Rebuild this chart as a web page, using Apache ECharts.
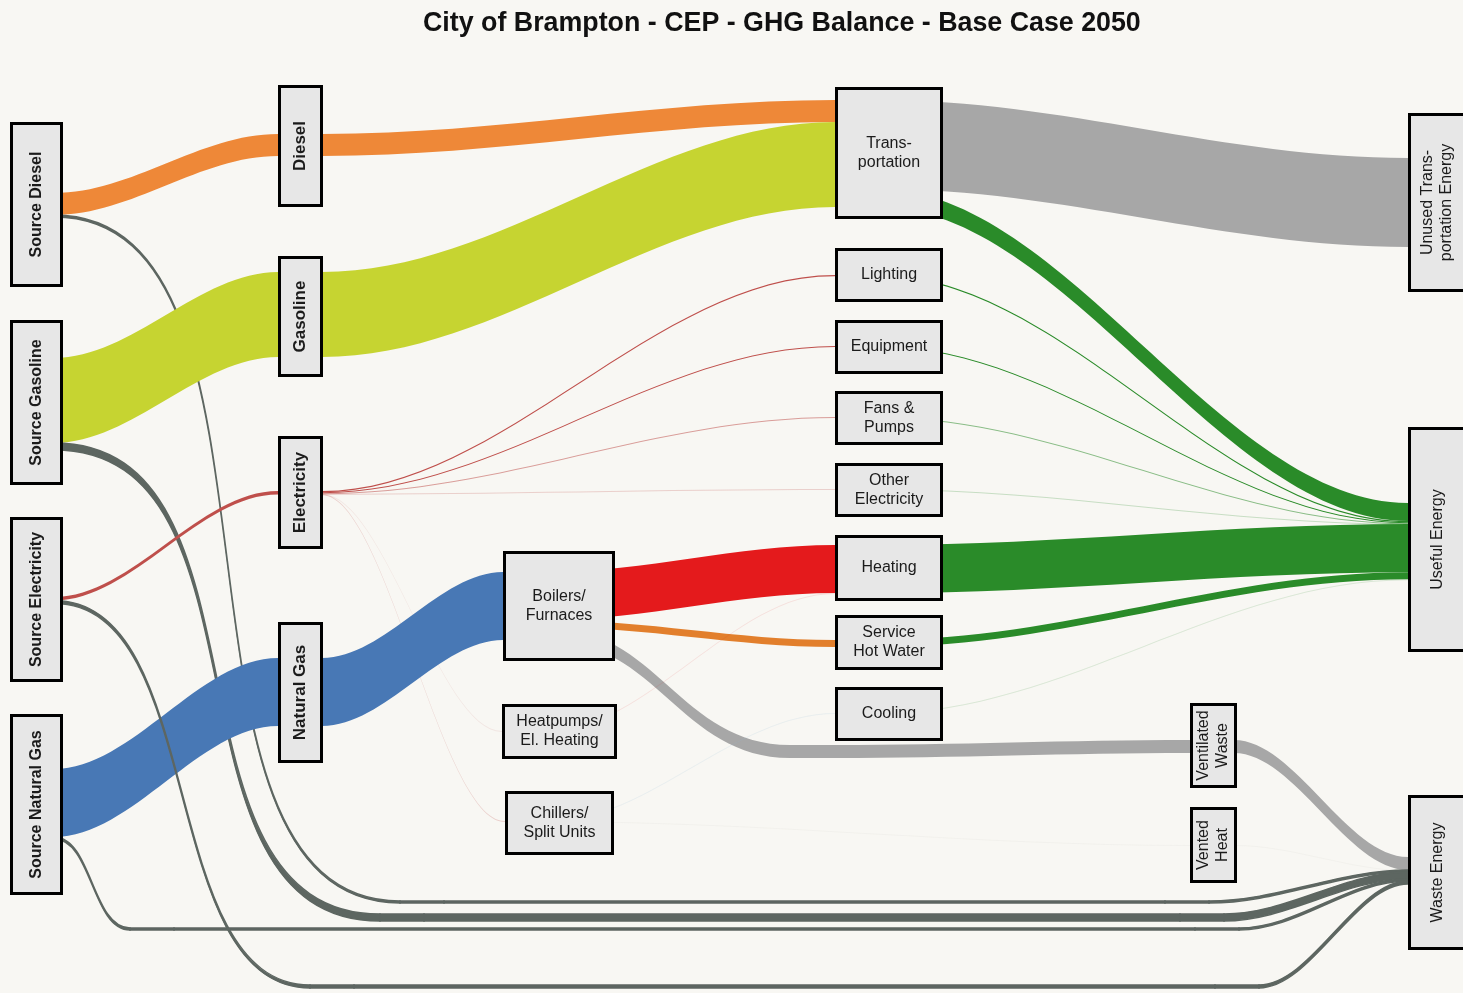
<!DOCTYPE html>
<html>
<head>
<meta charset="utf-8">
<title>City of Brampton - CEP - GHG Balance - Base Case 2050</title>
<script src="https://cdn.jsdelivr.net/npm/echarts@6/dist/echarts.min.js"></script>
<style>
  html, body { margin: 0; padding: 0; background: #f8f7f3; }
  #chart { width: 1463px; height: 993px; }
</style>
</head>
<body>
<div id="chart"></div>
<script>
// ---------------- data ----------------
const nodeNames = [
  'Source Diesel', 'Source Gasoline', 'Source Electricity', 'Source Natural Gas',
  'Diesel', 'Gasoline', 'Electricity', 'Natural Gas',
  'Boilers/Furnaces', 'Heatpumps/El. Heating', 'Chillers/Split Units',
  'Transportation', 'Lighting', 'Equipment', 'Fans & Pumps', 'Other Electricity',
  'Heating', 'Service Hot Water', 'Cooling',
  'Ventilated Waste', 'Vented Heat',
  'Unused Transportation Energy', 'Useful Energy', 'Waste Energy'
];
const nodeLabels = [
  'Source Diesel', 'Source Gasoline', 'Source Electricity', 'Source Natural Gas',
  'Diesel', 'Gasoline', 'Electricity', 'Natural Gas',
  'Boilers/\nFurnaces', 'Heatpumps/\nEl. Heating', 'Chillers/\nSplit Units',
  'Trans-\nportation', 'Lighting', 'Equipment', 'Fans &\nPumps', 'Other\nElectricity',
  'Heating', 'Service\nHot Water', 'Cooling',
  'Ventilated\nWaste', 'Vented\nHeat',
  'Unused Trans-\nportation Energy', 'Useful Energy', 'Waste Energy'
];

// flows, listed in the top-to-bottom order they stack at each node
const flowFrom = [
  'Ventilated Waste', 'Vented Heat',
  'Source Diesel', 'Source Diesel', 'Source Gasoline', 'Source Gasoline',
  'Source Natural Gas', 'Source Natural Gas', 'Source Electricity', 'Source Electricity',
  'Diesel', 'Gasoline',
  'Electricity', 'Electricity', 'Electricity', 'Electricity', 'Electricity', 'Electricity',
  'Natural Gas',
  'Boilers/Furnaces', 'Boilers/Furnaces', 'Boilers/Furnaces',
  'Heatpumps/El. Heating', 'Chillers/Split Units', 'Chillers/Split Units',
  'Transportation', 'Transportation',
  'Lighting', 'Equipment', 'Fans & Pumps', 'Other Electricity',
  'Heating', 'Service Hot Water', 'Cooling'
];
const flowTo = [
  'Waste Energy', 'Waste Energy',
  'Diesel', 'Waste Energy', 'Gasoline', 'Waste Energy',
  'Natural Gas', 'Waste Energy', 'Electricity', 'Waste Energy',
  'Transportation', 'Transportation',
  'Lighting', 'Equipment', 'Fans & Pumps', 'Other Electricity', 'Heatpumps/El. Heating', 'Chillers/Split Units',
  'Boilers/Furnaces',
  'Heating', 'Service Hot Water', 'Ventilated Waste',
  'Heating', 'Cooling', 'Vented Heat',
  'Unused Transportation Energy', 'Useful Energy',
  'Useful Energy', 'Useful Energy', 'Useful Energy', 'Useful Energy',
  'Useful Energy', 'Useful Energy', 'Useful Energy'
];
const flowValues = [
  13, 0.1,
  22, 2, 85, 7,
  68, 2, 3.55, 3,
  22, 85,
  1.2, 1.0, 0.6, 0.3, 0.15, 0.3,
  68,
  48, 7, 13,
  0.15, 0.2, 0.1,
  89, 18,
  1.2, 1.0, 0.6, 0.3,
  48.15, 7, 0.2
];
const flowCarrier = [
  'exhaust', 'ventedHeat',
  'diesel', 'loss', 'gasoline', 'loss',
  'gas', 'loss', 'electricity', 'loss',
  'diesel', 'gasoline',
  'electricity', 'electricity', 'electricity', 'electricity', 'electricity', 'electricity',
  'gas',
  'heat', 'hotWater', 'exhaust',
  'heat', 'cooling', 'ventedHeat',
  'unused', 'useful',
  'useful', 'useful', 'useful', 'useful',
  'useful', 'useful', 'useful'
];

// ---------------- layout (design grid of 1463 x 993) ----------------
const DESIGN_W = 1463;
const DESIGN_H = 993;
const NODE_W = 44;
const PX_PER_UNIT = 1;

// node boxes [x0, y0, x1, y1]
const BOX = {
  'Source Diesel': [10, 122, 63, 287],
  'Source Gasoline': [10, 320, 63, 485],
  'Source Electricity': [10, 517, 63, 682],
  'Source Natural Gas': [10, 714, 63, 895],
  'Diesel': [278, 85, 323, 207],
  'Gasoline': [278, 256, 323, 377],
  'Electricity': [278, 436, 323, 549],
  'Natural Gas': [278, 622, 323, 763],
  'Boilers/Furnaces': [503, 551, 615, 661],
  'Heatpumps/El. Heating': [502, 704, 617, 759],
  'Chillers/Split Units': [505, 791, 614, 855],
  'Transportation': [835, 87, 943, 219],
  'Lighting': [835, 248, 943, 302],
  'Equipment': [835, 320, 943, 374],
  'Fans & Pumps': [835, 391, 943, 445],
  'Other Electricity': [835, 463, 943, 517],
  'Heating': [835, 535, 943, 601],
  'Service Hot Water': [835, 615, 943, 670],
  'Cooling': [835, 687, 943, 741],
  'Ventilated Waste': [1190, 703, 1237, 788],
  'Vented Heat': [1190, 807, 1237, 883],
  'Unused Transportation Energy': [1408, 113, 1467, 292],
  'Useful Energy': [1408, 427, 1467, 652],
  'Waste Energy': [1408, 795, 1467, 950]
};
// y where the flows of each node start
const FLOW_TOP = {
  'Source Diesel': 193, 'Source Gasoline': 358, 'Source Electricity': 597, 'Source Natural Gas': 769,
  'Diesel': 134, 'Gasoline': 272, 'Electricity': 491, 'Natural Gas': 658,
  'Boilers/Furnaces': 572, 'Heatpumps/El. Heating': 731, 'Chillers/Split Units': 821,
  'Transportation': 100, 'Lighting': 275, 'Equipment': 346, 'Fans & Pumps': 417,
  'Other Electricity': 489, 'Heating': 545, 'Service Hot Water': 640, 'Cooling': 713,
  'Ventilated Waste': 740, 'Vented Heat': 845,
  'Unused Transportation Energy': 158, 'Useful Energy': 503, 'Waste Energy': 857
};
// some flows are routed through way points (left edge x, top y)
const ROUTES = {
  'Source Diesel>Waste Energy': { via: [[400, 901], [1165, 901]], curveness: 0.75 },
  'Source Gasoline>Waste Energy': { via: [[380, 914], [1180, 914]], curveness: 0.7 },
  'Source Natural Gas>Waste Energy': { via: [[130, 928], [1195, 928]], curveness: 0.5 },
  'Source Electricity>Waste Energy': { via: [[310, 985], [1215, 985]], curveness: 0.6 },
  'Boilers/Furnaces>Ventilated Waste': { via: [[790, 745]], curveness: 0.45 }
};

const LABEL_KIND = {
  source: { rotate: true, bold: true, size: 16 },
  carrier: { rotate: true, bold: true, size: 17 },
  device: { rotate: false, bold: false, size: 16 },
  sink: { rotate: true, bold: false, size: 16 }
};
function labelKind(i) {
  if (i < 4) return LABEL_KIND.source;
  if (i < 8) return LABEL_KIND.carrier;
  if (i < 19) return LABEL_KIND.device;
  return LABEL_KIND.sink;
}

const CARRIER_COLOR = {
  diesel: '#ee8838', gasoline: '#c6d431', electricity: '#bf4f4b', gas: '#4878b5',
  heat: '#e41a1c', hotWater: '#e27f2c', cooling: '#8fb7d6', useful: '#2a8b29',
  unused: '#a7a7a7', exhaust: '#a7a7a7', ventedHeat: '#c4c4ba', loss: '#5d6661'
};

function linkStyle(carrier, v) {
  const color = CARRIER_COLOR[carrier];
  // hairline flows look faint, as in the original
  const opacity = v >= 1 ? 1 : Math.max(0.1, Math.pow(v, 1.2));
  const s = { color: color, opacity: opacity };
  if (carrier === 'loss') {
    s.borderColor = color;
    s.borderWidth = 1.5;
  }
  return s;
}

// ---------------- chart ----------------
const chartDom = document.getElementById('chart');
const myChart = echarts.init(chartDom);
const W = myChart.getWidth();
const Hc = myChart.getHeight();
const sy = Hc / DESIGN_H;

// node values = max(in, out); size the sankey box so that 1 unit = PX_PER_UNIT px
const inSum = {}, outSum = {};
flowFrom.forEach(function (f, i) {
  outSum[f] = (outSum[f] || 0) + flowValues[i];
  inSum[flowTo[i]] = (inSum[flowTo[i]] || 0) + flowValues[i];
});
let maxNodeValue = 0;
nodeNames.forEach(function (n) {
  maxNodeValue = Math.max(maxNodeValue, inSum[n] || 0, outSum[n] || 0);
});
const H = maxNodeValue * PX_PER_UNIT * sy;

// every node in its own column keeps the flow order as listed above
let depth = 0;
const sankeyNodes = nodeNames.map(function (name) {
  return {
    name: name,
    depth: depth++,
    localX: BOX[name][0] / DESIGN_W,
    localY: FLOW_TOP[name] * sy / H,
    itemStyle: { color: 'rgba(0,0,0,0)', borderWidth: 0 }
  };
});
const sankeyLinks = [];
flowFrom.forEach(function (from, i) {
  const to = flowTo[i];
  const v = flowValues[i];
  const style = linkStyle(flowCarrier[i], v);
  const route = ROUTES[from + '>' + to];
  let prev = from;
  if (route) {
    route.via.forEach(function (pt, k) {
      const via = 'via ' + i + '-' + k;
      sankeyNodes.push({
        name: via,
        depth: depth++,
        localX: pt[0] / DESIGN_W,
        localY: pt[1] * sy / H,
        itemStyle: {
          color: style.color, opacity: style.opacity,
          borderColor: style.borderColor || style.color, borderWidth: style.borderWidth || 0
        }
      });
      const ls = Object.assign({}, style);
      if (k === 0) ls.curveness = route.curveness;
      sankeyLinks.push({ source: prev, target: via, value: v, lineStyle: ls });
      prev = via;
    });
  }
  sankeyLinks.push({ source: prev, target: to, value: v, lineStyle: style });
});

const boxData = nodeNames.map(function (name) {
  return { name: name, value: BOX[name] };
});

const option = {
  backgroundColor: '#f8f7f3',
  animation: false,
  title: {
    text: 'City of Brampton - CEP - GHG Balance - Base Case 2050',
    left: 418,
    top: 5,
    textStyle: {
      fontFamily: 'Liberation Sans',
      fontWeight: 'bold',
      fontSize: 26.8,
      color: '#111'
    }
  },
  grid: { left: 0, right: 0, top: 0, bottom: 0, containLabel: false },
  xAxis: { type: 'value', min: 0, max: DESIGN_W, show: false },
  yAxis: { type: 'value', min: 0, max: DESIGN_H, inverse: true, show: false },
  series: [
    {
      type: 'sankey',
      left: 0,
      top: 0,
      width: W,
      height: H,
      nodeWidth: NODE_W,
      nodeGap: 0,
      nodeAlign: 'left',
      layoutIterations: 0,
      draggable: false,
      silent: true,
      label: { show: false },
      emphasis: { disabled: true },
      lineStyle: { opacity: 1, curveness: 0.35 },
      data: sankeyNodes,
      links: sankeyLinks,
      z: 2
    },
    {
      type: 'custom',
      coordinateSystem: 'cartesian2d',
      silent: true,
      clip: false,
      z: 5,
      encode: { x: [0, 2], y: [1, 3] },
      data: boxData,
      renderItem: function (params, api) {
        const i = params.dataIndex;
        const kind = labelKind(i);
        const p0 = api.coord([api.value(0), api.value(1)]);
        const p1 = api.coord([api.value(2), api.value(3)]);
        const bw = 3;
        return {
          type: 'group',
          children: [
            {
              type: 'rect',
              shape: {
                x: p0[0] + bw / 2, y: p0[1] + bw / 2,
                width: p1[0] - p0[0] - bw, height: p1[1] - p0[1] - bw
              },
              style: { fill: '#e7e7e7', stroke: '#000', lineWidth: bw }
            },
            {
              type: 'text',
              x: (p0[0] + p1[0]) / 2,
              y: (p0[1] + p1[1]) / 2,
              rotation: kind.rotate ? Math.PI / 2 : 0,
              style: {
                text: nodeLabels[i],
                align: 'center',
                verticalAlign: 'middle',
                fontFamily: 'Liberation Sans',
                fontSize: kind.size,
                fontWeight: kind.bold ? 'bold' : 'normal',
                lineHeight: 19,
                fill: '#1b1b1b'
              }
            }
          ]
        };
      }
    }
  ]
};

myChart.setOption(option);
window.addEventListener('resize', function () {
  myChart.resize();
});
</script>
</body>
</html>
